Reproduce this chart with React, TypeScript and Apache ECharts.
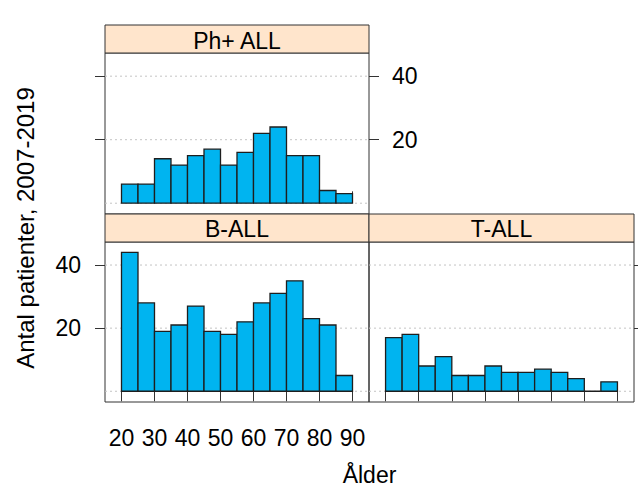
import React, { useEffect, useRef } from "react";
import * as echarts from "echarts";

// Data
const ageBreaks = [20, 25, 30, 35, 40, 45, 50, 55, 60, 65, 70, 75, 80, 85, 90];
const phAllCounts = [6, 6, 14, 12, 15, 17, 12, 16, 22, 24, 15, 15, 4, 3];
const bAllCounts = [44, 28, 19, 21, 27, 19, 18, 22, 28, 31, 35, 23, 21, 5];
const tAllCounts = [17, 18, 8, 11, 5, 5, 8, 6, 6, 7, 6, 4, 0, 3];
const panelTitles = ["Ph+ ALL", "B-ALL", "T-ALL"];
const xTicks = [20, 30, 40, 50, 60, 70, 80, 90];
const yTicks = [20, 40];
const gridValues = [0, 20, 40];
const xTitle = "Ålder";
const yTitle = "Antal patienter, 2007-2019";

const X_MIN = 15;
const X_MAX = 95;
const Y_MIN = -3.4;
const Y_MAX = 47.3;

const FONT = "'Liberation Sans', Arial, Helvetica, sans-serif";
const FS = 23;
const BAR_FILL = "#00B4F0";
const BAR_STROKE = "#1e1e1e";
const FRAME = "#333333";
const STRIP_BG = "#FFE5CC";
const GRID_COLOR = "#c4c4c4";

function toBins(counts: number[]) {
  return counts.map((c, i) => [ageBreaks[i], ageBreaks[i + 1], c]);
}

function barSeries(gridIdx: number, yIdx: number, counts: number[]) {
  return {
    type: "custom",
    xAxisIndex: gridIdx,
    yAxisIndex: yIdx,
    z: 3,
    silent: true,
    data: toBins(counts),
    renderItem: (params: any, api: any) => {
      const p0 = api.coord([api.value(0), api.value(2)]);
      const p1 = api.coord([api.value(1), 0]);
      return {
        type: "rect",
        shape: { x: p0[0], y: p0[1], width: p1[0] - p0[0], height: p1[1] - p0[1] },
        style: { fill: BAR_FILL, stroke: BAR_STROKE, lineWidth: 1.3 },
      };
    },
  };
}

function gridLineSeries(gridIdx: number, yIdx: number) {
  return {
    type: "custom",
    xAxisIndex: gridIdx,
    yAxisIndex: yIdx,
    z: 1,
    silent: true,
    data: gridValues.map((v) => [v]),
    renderItem: (params: any, api: any) => {
      const a = api.coord([X_MIN, api.value(0)]);
      const b = api.coord([X_MAX, api.value(0)]);
      return {
        type: "line",
        shape: { x1: a[0], y1: a[1], x2: b[0], y2: b[1] },
        style: { stroke: GRID_COLOR, lineWidth: 1, lineDash: [2, 3] },
      };
    },
  };
}

const tickStyle = { color: FRAME, width: 1 };

function makeX(gridIndex: number, opts: any) {
  return {
    type: "value",
    gridIndex,
    min: X_MIN,
    max: X_MAX,
    splitLine: { show: false },
    axisLine: { show: false },
    axisTick: { show: false },
    axisLabel: { show: false },
    ...opts,
  };
}

function makeY(gridIndex: number, opts: any) {
  return {
    type: "value",
    gridIndex,
    min: Y_MIN,
    max: Y_MAX,
    splitLine: { show: false },
    axisLine: { show: false },
    axisTick: { show: false },
    axisLabel: { show: false },
    ...opts,
  };
}

const ticksOnly = {
  axisTick: { show: true, inside: false, length: 10, lineStyle: tickStyle, customValues: yTicks },
};

const labelStyle = { show: true, fontSize: FS, color: "#000", fontFamily: FONT };

export default function App() {
  const ref = useRef<HTMLDivElement>(null);

  useEffect(() => {
    if (!ref.current) return;
    const chart = echarts.init(ref.current, undefined, { renderer: "svg" });

    const gridBase = { show: true, borderColor: FRAME, borderWidth: 1, backgroundColor: "transparent" };

    const textEl = (text: string, x: number, y: number, size: number, rotation = 0, z = 11) => ({
      type: "text",
      x,
      y,
      z,
      rotation,
      style: {
        text,
        fill: "#000",
        font: `${size}px ${FONT}`,
        textAlign: "center",
        textVerticalAlign: "middle",
      },
    });

    const strip = (x: number, y: number, w: number) => ({
      type: "rect",
      shape: { x, y, width: w, height: 28 },
      style: { fill: STRIP_BG, stroke: FRAME, lineWidth: 1 },
      z: 10,
    });

    const option: any = {
      animation: false,
      backgroundColor: "#ffffff",
      textStyle: { fontFamily: FONT },
      grid: [
        { ...gridBase, left: 105, top: 53, width: 264, height: 161 },
        { ...gridBase, left: 105, top: 242, width: 264, height: 160 },
        { ...gridBase, left: 369, top: 242, width: 265, height: 160 },
        { show: false, left: 105, top: 25, width: 264, height: 189 },
      ],
      xAxis: [
        makeX(0, {}),
        makeX(1, {
          position: "bottom",
          axisTick: { show: true, inside: false, length: 10, lineStyle: tickStyle, customValues: xTicks },
          axisLabel: { ...labelStyle, customValues: xTicks, margin: 24 },
        }),
        makeX(2, {
          position: "bottom",
          axisTick: { show: true, inside: false, length: 10, lineStyle: tickStyle, customValues: xTicks },
        }),
        makeX(3, {
          position: "top",
          axisTick: { show: true, inside: false, length: 10, lineStyle: tickStyle, customValues: xTicks },
        }),
      ],
      yAxis: [
        makeY(0, { position: "left", ...ticksOnly }),
        makeY(0, {
          position: "right",
          ...ticksOnly,
          axisLabel: { ...labelStyle, customValues: yTicks, margin: 23 },
        }),
        makeY(1, {
          position: "left",
          ...ticksOnly,
          axisLabel: { ...labelStyle, customValues: yTicks, margin: 24 },
        }),
        makeY(2, { position: "right", ...ticksOnly }),
        makeY(3, { show: false }),
      ],
      series: [
        gridLineSeries(0, 0),
        barSeries(0, 0, phAllCounts),
        gridLineSeries(1, 2),
        barSeries(1, 2, bAllCounts),
        gridLineSeries(2, 3),
        barSeries(2, 3, tAllCounts),
      ],
      graphic: [
        strip(105, 25, 264),
        strip(105, 214, 264),
        strip(369, 214, 265),
        textEl(panelTitles[0], 237, 41, FS),
        textEl(panelTitles[1], 237, 229, FS),
        textEl(panelTitles[2], 501.5, 229, FS),
        textEl(xTitle, 369.5, 475, FS),
        textEl(yTitle, 25, 228, 24, Math.PI / 2),
      ],
    };

    chart.setOption(option);
    return () => chart.dispose();
  }, []);

  return (
    <div
      ref={ref}
      style={{ position: "fixed", left: 0, top: 0, width: 638, height: 487, overflow: "hidden" }}
    />
  );
}
